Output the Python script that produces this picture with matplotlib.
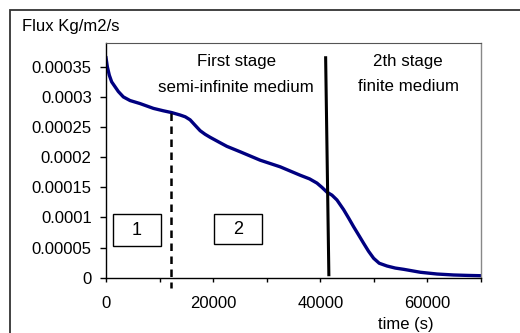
import matplotlib
matplotlib.use("Agg")
import matplotlib.pyplot as plt
from matplotlib.patches import Rectangle

plt.rcParams['font.family'] = ['Liberation Sans', 'DejaVu Sans']

# Data
time_s = [0, 250, 620, 1060, 1680, 2300, 3240, 4490, 6350, 8850, 10700,
          12270, 13830, 14800, 15700, 16630, 17570, 18500, 19440, 21300,
          22560, 25040, 28780, 32520, 36260, 38000, 39380, 40300, 41240,
          42180, 43110, 44350, 45290, 46220, 47150, 48090, 49000, 49960,
          51000, 52460, 54000, 55570, 58690, 61810, 64910, 67500, 69900]
flux = [0.000365, 0.000350, 0.000336, 0.000325, 0.000317, 0.000309, 0.000300,
        0.000294, 0.000289, 0.000281, 0.000277, 0.000274, 0.000270, 0.000267,
        0.000262, 0.000253, 0.000244, 0.000238, 0.000233, 0.000224, 0.000218,
        0.000209, 0.000195, 0.000184, 0.000170, 0.000164, 0.000157, 0.000150,
        0.000142, 0.000137, 0.000129, 0.000113, 0.000099, 0.0000846,
        0.0000710, 0.0000571, 0.0000440, 0.0000322, 0.0000240, 0.0000194,
        0.0000160, 0.0000139, 0.0000090, 0.0000061, 0.0000045, 0.0000038,
        0.0000033]

y_ticks = [0, 0.00005, 0.0001, 0.00015, 0.0002, 0.00025, 0.0003, 0.00035]
y_labels = ["0", "0.00005", "0.0001", "0.00015", "0.0002", "0.00025", "0.0003", "0.00035"]
x_ticks = [0, 10000, 20000, 30000, 40000, 50000, 60000, 70000]
x_labels = ["0", "", "20000", "", "40000", "", "60000", ""]

stage_boundary = 41300
regime_boundary = 12100

fig = plt.figure(figsize=(5.2, 3.33), dpi=100)
ax = fig.add_axes([106/520, 1-277.7/333, (481-106)/520, (277.7-42.7)/333])

ax.plot(time_s, flux, color='#000080', lw=2.4, solid_joinstyle='round')

ax.set_xlim(0, 70000)
ax.set_ylim(0, 0.00039)
ax.set_yticks(y_ticks)
ax.set_yticklabels(y_labels)
ax.set_xticks(x_ticks)
ax.set_xticklabels(x_labels)
ax.tick_params(axis='y', direction='out', length=4.3, width=1, pad=6, labelsize=12)
ax.tick_params(axis='x', direction='out', length=3, width=1, pad=10, labelsize=12)

for s in ['left', 'bottom']:
    ax.spines[s].set_color('black')
    ax.spines[s].set_linewidth(1.0)
ax.spines['top'].set_color('#555555')
ax.spines['top'].set_linewidth(0.8)
ax.spines['right'].set_color('#888888')
ax.spines['right'].set_linewidth(1.0)

# vertical separators
ax.plot([41000, 41600], [0.000365, 0.000005], color='black', lw=2.2)
ax.plot([regime_boundary, regime_boundary], [0.000274, -0.0000166], color='black',
        lw=1.8, ls=(0, (3.0, 2.2)), clip_on=False)

# stage labels
ax.text(24300, 0.000358, "First stage", ha='center', va='center', fontsize=12.2)
ax.text(24300, 0.000315, "semi-infinite medium", ha='center', va='center', fontsize=12.2)
ax.text(56440, 0.000358, "2th stage", ha='center', va='center', fontsize=12.2)
ax.text(56440, 0.000318, "finite medium", ha='center', va='center', fontsize=12.2)

# boxes 1 and 2
ax.add_patch(Rectangle((1310, 0.0000526), 8970, 0.0000531, facecolor='white',
                       edgecolor='black', lw=1.0, zorder=3))
ax.text((1310 + 10280) / 2, (0.0000526 + 0.0001057) / 2, "1", ha='center',
        va='center', fontsize=13, zorder=4)
ax.add_patch(Rectangle((20185, 0.0000559), 8975, 0.0000498, facecolor='white',
                       edgecolor='black', lw=1.0, zorder=3))
ax.text((20185 + 29160) / 2, (0.0000559 + 0.0001057) / 2, "2", ha='center',
        va='center', fontsize=13, zorder=4)

# axis titles
fig.text(22/520, 1-27/333, "Flux Kg/m2/s", ha='left', va='center', fontsize=12)
fig.text(406/520, 1-324/333, "time (s)", ha='center', va='center', fontsize=12)

# outer frame
fig.patches.append(Rectangle((9.5/520, -0.5), 2, 1.5 - 9.5/333, transform=fig.transFigure,
                             fill=False, edgecolor='#333333', lw=1.3))

fig.savefig("out.png", dpi=100)
